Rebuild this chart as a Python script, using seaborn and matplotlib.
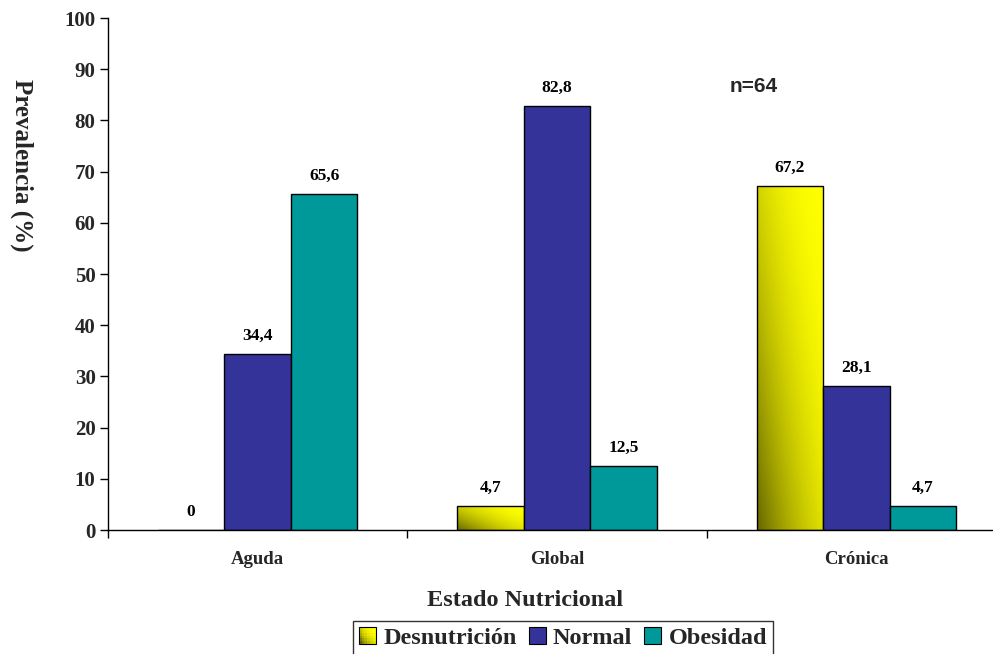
import numpy as np
import pandas as pd
import matplotlib
matplotlib.use("Agg")
import matplotlib.pyplot as plt
import seaborn as sns
from matplotlib.patches import Rectangle
from matplotlib.legend_handler import HandlerBase

# Data
categories = ["Aguda", "Global", "Crónica"]
groups = ["Desnutrición", "Normal", "Obesidad"]
desnutricion = [0.0, 4.7, 67.2]
normal = [34.4, 82.8, 28.1]
obesidad = [65.6, 12.5, 4.7]
value_labels = {
    "Desnutrición": ["0", "4,7", "67,2"],
    "Normal": ["34,4", "82,8", "28,1"],
    "Obesidad": ["65,6", "12,5", "4,7"],
}
y_ticks = [0, 10, 20, 30, 40, 50, 60, 70, 80, 90, 100]

df = pd.DataFrame({
    "Estado": categories * 3,
    "Grupo": [g for g in groups for _ in categories],
    "Prevalencia": desnutricion + normal + obesidad,
})

palette = {"Desnutrición": "#cccc00", "Normal": "#333399", "Obesidad": "#009999"}

sns.set_theme(style="white")
plt.rcParams["font.family"] = ["Liberation Serif", "DejaVu Serif"]
plt.rcParams["font.weight"] = "bold"

fig = plt.figure(figsize=(9.93, 6.54), dpi=100)
W, H = 993, 654
ax = fig.add_axes([108 / W, 1 - 530 / H, 898 / W, 512 / H])

sns.barplot(data=df, x="Estado", y="Prevalencia", hue="Grupo",
            order=categories, hue_order=groups, palette=palette,
            width=2 / 3, edgecolor="black", linewidth=1.0, ax=ax,
            legend=False, saturation=1)

ax.set_ylim(0, 100)
ax.set_xlim(-0.5, 2.5)
ax.set_yticks(y_ticks)
ax.set_yticklabels([str(t) for t in y_ticks], fontsize=15, fontweight="bold")
ax.set_xticks(range(3))
ax.set_xticklabels(categories, fontsize=13.5, fontweight="bold")
ax.set_xticks([-0.5, 0.5, 1.5, 2.5], minor=True)
ax.tick_params(axis="x", which="major", length=0, pad=15)
ax.tick_params(axis="x", which="minor", length=6, width=1, direction="out", color="black", bottom=True)
ax.tick_params(axis="y", length=6, width=1, direction="out", color="black", left=True, pad=3)
for s in ["top", "right"]:
    ax.spines[s].set_visible(False)
for s in ["left", "bottom"]:
    ax.spines[s].set_color("black")
    ax.spines[s].set_linewidth(1.0)
ax.set_xlabel("")
ax.set_ylabel("")
ax.grid(False)

# Diagonal olive-to-yellow gradient for the Desnutrición bars
dark = np.array([0.40, 0.40, 0.0])
bright = np.array([1.0, 1.0, 0.0])
nx, ny = 64, 64
gx, gy = np.meshgrid(np.linspace(0, 1, nx), np.linspace(0, 1, ny))
t = np.clip(0.55 * gx + 0.45 * gy, 0, 1)
t = 1 - (1 - t) ** 2
grad = dark[None, None, :] + t[..., None] * (bright - dark)[None, None, :]

desn_bars = ax.containers[0]
for bar in desn_bars:
    x0, w, h = bar.get_x(), bar.get_width(), bar.get_height()
    if h <= 0:
        continue
    bar.set_facecolor("none")
    im = ax.imshow(grad, extent=[x0, x0 + w, 0, h], origin="lower",
                   aspect="auto", zorder=bar.get_zorder() - 0.1, interpolation="bilinear")
    im.set_clip_path(bar)
ax.set_xlim(-0.5, 2.5)
ax.set_ylim(0, 100)

# Value labels above bars
for cont, g in zip(ax.containers, groups):
    for bar, lab in zip(cont, value_labels[g]):
        cx = bar.get_x() + bar.get_width() / 2
        ax.text(cx, bar.get_height() + 2.0, lab, ha="center", va="bottom",
                fontsize=12.5, fontweight="bold", color="black")

ax.text(1.658, 86.7, "n=64", ha="center", va="center", fontsize=15, fontweight="bold",
        family=["Liberation Sans", "DejaVu Sans"])

fig.text(22 / W, 1 - 165 / H, "Prevalencia (%)", rotation=-90, ha="center", va="center",
         fontsize=18, fontweight="bold")
fig.text(525 / W, 1 - 600 / H, "Estado Nutricional", ha="center", va="center",
         fontsize=17.5, fontweight="bold")


class GradientHandler(HandlerBase):
    def create_artists(self, legend, orig_handle, xdescent, ydescent, width, height, fontsize, trans):
        s = min(width, height)
        x0 = xdescent + (width - s) / 2
        y0 = -ydescent + (height - s) / 2
        artists = []
        n = 6
        for i in range(n):
            for j in range(n):
                tt = 1 - (1 - (0.55 * i / (n - 1) + 0.45 * j / (n - 1))) ** 2
                c = dark + tt * (bright - dark)
                r = Rectangle((x0 + i * s / n, y0 + j * s / n), s / n, s / n,
                              facecolor=c, edgecolor="none", transform=trans)
                artists.append(r)
        artists.append(Rectangle((x0, y0), s, s, facecolor="none", edgecolor="black",
                                 linewidth=0.8, transform=trans))
        return artists


class SquareHandler(HandlerBase):
    def create_artists(self, legend, orig_handle, xdescent, ydescent, width, height, fontsize, trans):
        s = min(width, height)
        x0 = xdescent + (width - s) / 2
        y0 = -ydescent + (height - s) / 2
        return [Rectangle((x0, y0), s, s, facecolor=orig_handle.get_facecolor(),
                          edgecolor="black", linewidth=0.8, transform=trans)]


handles = [Rectangle((0, 0), 1, 1, facecolor=palette[g]) for g in groups]
handler_map = {handles[0]: GradientHandler(), handles[1]: SquareHandler(), handles[2]: SquareHandler()}
leg = fig.legend(handles, groups, handler_map=handler_map, loc="center",
                 bbox_to_anchor=(563 / W, 1 - 638 / H), ncol=3,
                 prop={"family": "Liberation Serif", "weight": "bold", "size": 17.5},
                 frameon=True, fancybox=False, edgecolor="black", handlelength=0.7,
                 handleheight=0.7, handletextpad=0.3, columnspacing=0.5, borderpad=0.25,
                 borderaxespad=0)
leg.get_frame().set_linewidth(1.0)

fig.savefig("out.png", dpi=100)
